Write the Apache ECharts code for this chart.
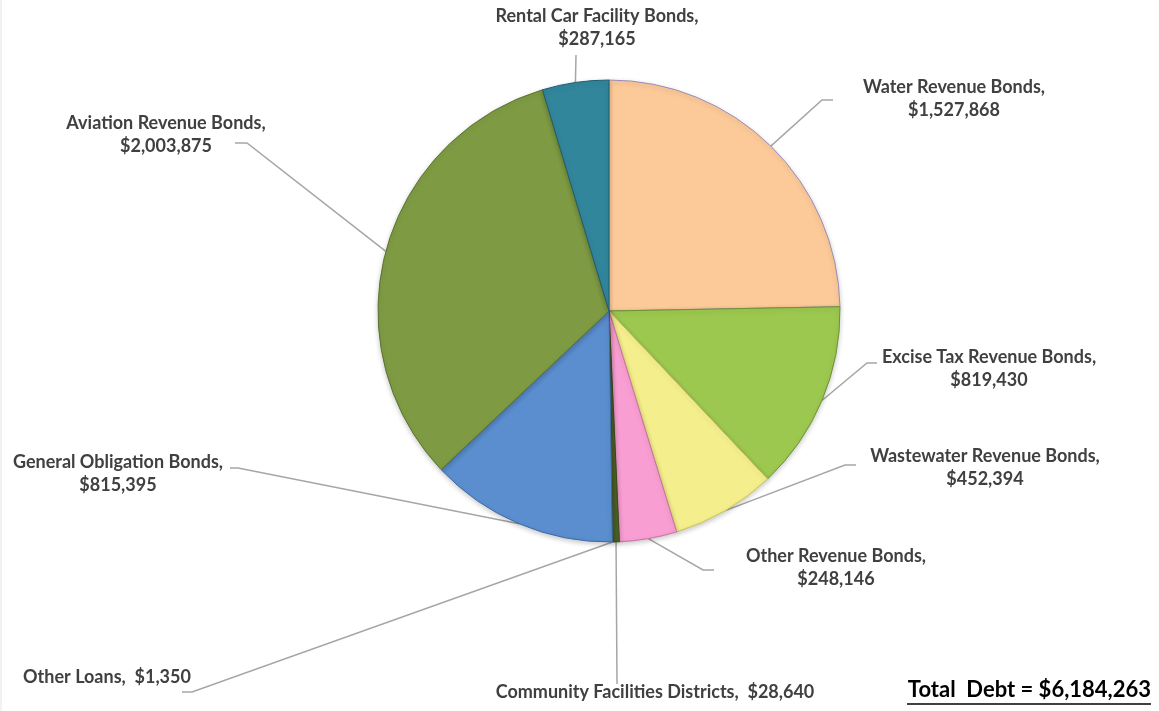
<!DOCTYPE html>
<html>
<head>
<meta charset="utf-8">
<script src="https://cdn.jsdelivr.net/npm/echarts@6/dist/echarts.min.js"></script>
<style>
  html, body { margin: 0; padding: 0; background: #ffffff; }
  #chart { width: 1159px; height: 711px; }
</style>
</head>
<body>
<div id="chart"></div>
<script>
// Outstanding debt by type (in thousands of dollars), clockwise from 12 o'clock
const categories = [
  'Water Revenue Bonds',
  'Excise Tax Revenue Bonds',
  'Wastewater Revenue Bonds',
  'Other Revenue Bonds',
  'Community Facilities Districts',
  'Other Loans',
  'General Obligation Bonds',
  'Aviation Revenue Bonds',
  'Rental Car Facility Bonds'
];
const debt = [1527868, 819430, 452394, 248146, 28640, 1350, 815395, 2003875, 287165];

// Short labels sit on one line, the rest wrap after the comma
const oneLineLabel = [false, false, false, false, true, true, false, false, false];

const fillColors = ['#FCC998', '#9CC84F', '#F4EE8C', '#F99ED2', '#4F6228', '#4F6228', '#5B8ECF', '#7E9B43', '#31869C'];
const edgeColors = ['#9A8CB8', '#6E9233', '#C9C25E', '#C9739F', '#3A4A1C', '#3A4A1C', '#3E6BA3', '#5C7430', '#215E70'];

// Label centres and leader-line bends (page pixels)
const labelSpots = [
  { x: 954, y: 99,  bend: [[822, 100], [833, 100]] },
  { x: 989, y: 369, bend: [[867, 363], [877, 363]] },
  { x: 985, y: 468, bend: [[845, 465], [856, 465]] },
  { x: 836, y: 568, bend: [[703, 570], [714, 570]] },
  { x: 655, y: 692, bend: [[617, 684]] },
  { x: 107, y: 677, bend: [[192, 692], [182, 692]] },
  { x: 118, y: 474, bend: [[238, 468], [230, 468]] },
  { x: 166, y: 135, bend: [[247, 143], [235, 143]] },
  { x: 597, y: 28,  bend: [[576, 55]] }
];

const money = v => '$' + v.toLocaleString('en-US');
const totalDebt = debt.reduce((a, b) => a + b, 0);

const chart = echarts.init(document.getElementById('chart'), null, { renderer: 'canvas' });

const seriesData = categories.map((name, i) => ({
  name: name,
  value: debt[i],
  itemStyle: { color: fillColors[i], borderColor: edgeColors[i] }
}));

chart.setOption({
  backgroundColor: '#ffffff',
  animation: false,
  series: [{
    type: 'pie',
    center: [609, 311],
    radius: 231,
    startAngle: 90,
    clockwise: true,
    avoidLabelOverlap: false,
    minShowLabelAngle: 0,
    itemStyle: {
      borderWidth: 1,
      shadowBlur: 5,
      shadowColor: 'rgba(0,0,0,0.2)',
      shadowOffsetY: 2
    },
    emphasis: { disabled: true },
    label: {
      show: true,
      position: 'outside',
      fontFamily: 'Lato',
      fontWeight: 'bold',
      fontSize: 18,
      lineHeight: 23,
      color: '#404040',
      align: 'center',
      formatter: p => p.name + ',' + (oneLineLabel[p.dataIndex] ? '  ' : '\n') + money(p.value)
    },
    labelLine: {
      show: true,
      length: 20,
      length2: 10,
      lineStyle: { color: '#A6A6A6', width: 1.5 }
    },
    labelLayout: function (params) {
      const spot = labelSpots[params.dataIndex];
      const start = params.labelLinePoints[0];
      const pts = [start].concat(spot.bend);
      if (pts.length < 3) pts.push(spot.bend[spot.bend.length - 1]);
      return {
        x: spot.x,
        y: spot.y,
        align: 'center',
        verticalAlign: 'middle',
        labelLinePoints: pts
      };
    },
    data: seriesData
  }],
  graphic: [
    {
      type: 'line',
      shape: { x1: 1, y1: 0, x2: 1, y2: 711 },
      style: { stroke: '#E4E4E4', lineWidth: 1 }
    },
    {
      type: 'text',
      right: 8,
      top: 679,
      style: {
        text: 'Total  Debt = ' + money(totalDebt),
        fontFamily: 'Lato',
        fontWeight: 'bold',
        fontSize: 22,
        fill: '#000000'
      }
    },
    {
      type: 'line',
      shape: { x1: 907, y1: 704, x2: 1151, y2: 704 },
      style: { stroke: '#000000', lineWidth: 1.5 }
    }
  ]
});
</script>
</body>
</html>
